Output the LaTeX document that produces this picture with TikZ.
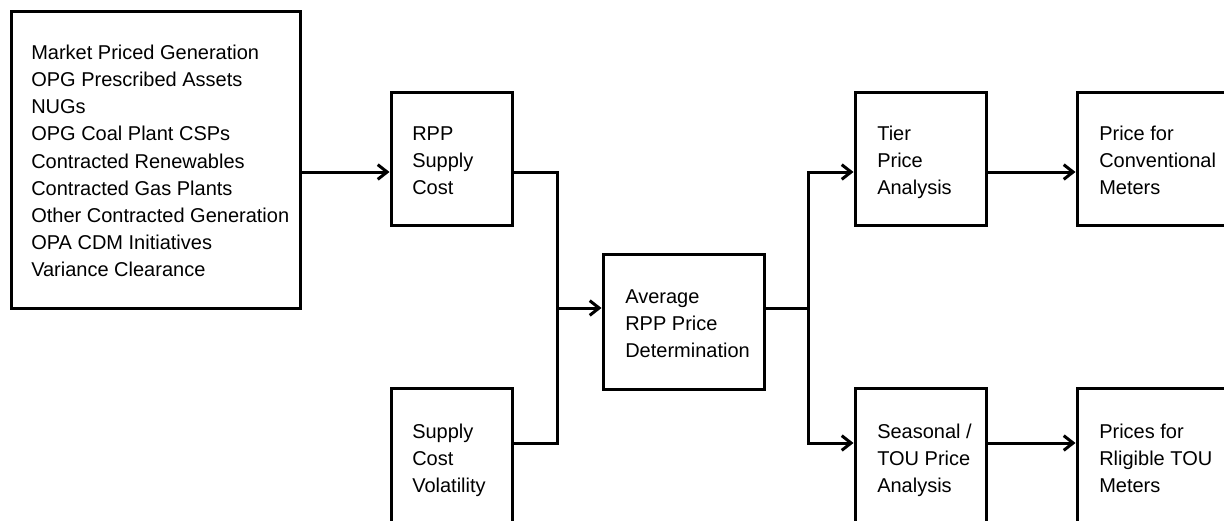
\documentclass[tikz,border=0pt]{standalone}
\usepackage{fontspec}
\setmainfont{Liberation Sans}
\usetikzlibrary{arrows.meta}
\begin{document}
\begin{tikzpicture}[x=0.75pt,y=-0.75pt,
  box/.style={draw, line width=2.25pt, inner sep=0pt, rectangle},
  lbl/.style={anchor=north west, inner sep=0pt, align=left, text=black,
    font=\fontsize{15}{20.3}\selectfont},
  conn/.style={line width=2.25pt},
  arr/.style={conn, -{Straight Barb[length=7pt,width=11pt,line width=2.25pt]}}]
\useasboundingbox (0,0) rectangle (1224,521);
\clip (0,0) rectangle (1224,521);
% boxes
\node[box, minimum width=216.75pt, minimum height=222.75pt] (src) at (155.5,159.5) {};
\node[box, minimum width=90.75pt, minimum height=99.75pt] (rpp) at (451.5,158.5) {};
\node[box, minimum width=90.75pt, minimum height=106.5pt] (vol) at (451.5,459) {};
\node[box, minimum width=120.75pt, minimum height=101.25pt] (avg) at (683.5,321.5) {};
\node[box, minimum width=98.25pt, minimum height=99.75pt] (tier) at (920.5,158.5) {};
\node[box, minimum width=98.25pt, minimum height=106.5pt] (seas) at (920.5,459) {};
\node[box, minimum width=122.25pt, minimum height=99.75pt] (conv) at (1158.5,158.5) {};
\node[box, minimum width=122.25pt, minimum height=106.5pt] (tou) at (1158.5,459) {};
% labels
\node[lbl] (srct) at (31,45) {Market Priced Generation\\OPG Prescribed Assets\\NUGs\\OPG Coal Plant CSPs\\Contracted Renewables\\Contracted Gas Plants\\Other Contracted Generation\\OPA CDM Initiatives\\Variance Clearance};
\node[lbl] (rppt) at (412,126) {RPP\\Supply\\Cost};
\node[lbl] (volt) at (412,424) {Supply\\Cost\\Volatility};
\node[lbl] (avgt) at (625,289) {Average\\RPP Price\\Determination};
\node[lbl] (tiert) at (877,126) {Tier\\Price\\Analysis};
\node[lbl] (seast) at (877,424) {Seasonal /\\TOU Price\\Analysis};
\node[lbl] (convt) at (1099,126) {Price for\\Conventional\\Meters};
\node[lbl] (tout) at (1099,424) {Prices for\\Rligible TOU\\Meters};
% rows
\coordinate (r1) at (0,172);
\coordinate (r2) at (0,308);
\coordinate (r3) at (0,443);
\coordinate (jl) at (557,308);
\coordinate (jr) at (808,308);
% connectors
\draw[arr] (src.east |- r1) -- (rpp.west |- r1);
\draw[conn] (rpp.east |- r1) -| (jl);
\draw[conn] (vol.east |- r3) -| (jl);
\draw[arr] (jl) -- (avg.west |- r2);
\draw[conn] (avg.east |- r2) -- (jr);
\draw[arr] (jr) |- (tier.west |- r1);
\draw[arr] (jr) |- (seas.west |- r3);
\draw[arr] (tier.east |- r1) -- (conv.west |- r1);
\draw[arr] (seas.east |- r3) -- (tou.west |- r3);
\end{tikzpicture}
\end{document}
